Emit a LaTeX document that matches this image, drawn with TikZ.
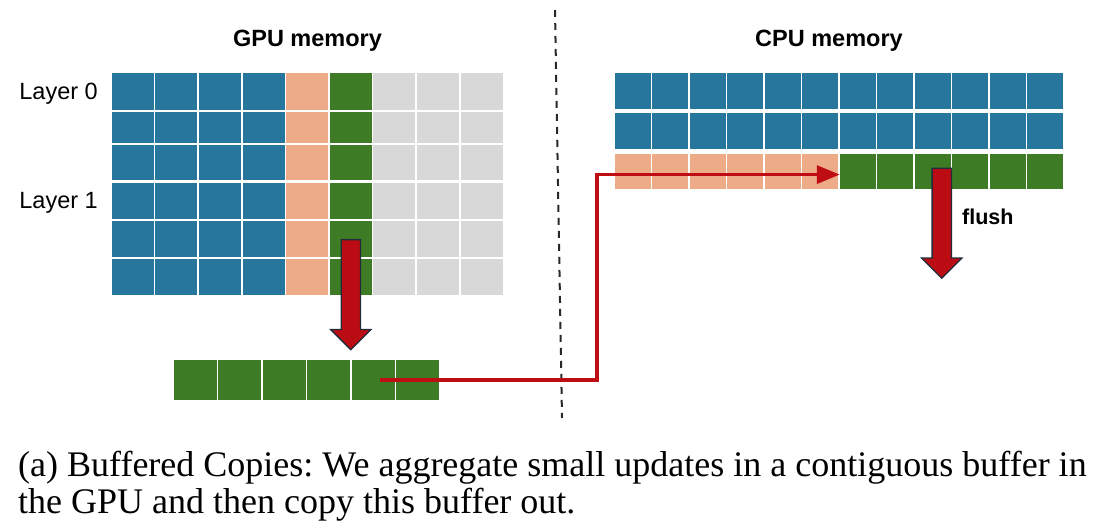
\documentclass[tikz,border=0pt]{standalone}
\usepackage{fontspec}
\setmainfont{Liberation Serif}
\setsansfont{Liberation Sans}
\usetikzlibrary{shapes.arrows,arrows.meta,positioning,calc}

\definecolor{cellblue}{RGB}{38,118,158}
\definecolor{cellsalmon}{RGB}{238,171,135}
\definecolor{cellgreen}{RGB}{61,123,37}
\definecolor{cellgray}{RGB}{216,216,216}
\definecolor{arrowred}{RGB}{186,12,18}
\definecolor{arrowedge}{RGB}{32,44,60}
\definecolor{linkred}{RGB}{190,14,20}
\definecolor{divgray}{RGB}{40,40,40}

\tikzset{
  cell/.style={rectangle,inner sep=0pt,outer sep=0pt,draw=none},
  bigarrow/.style={single arrow,draw=arrowedge,line width=1.3pt,fill=arrowred,
    inner xsep=0pt,inner ysep=9pt,single arrow head extend=10.5pt,
    minimum height=110pt,rotate=-90,anchor=tail},
  link/.style={draw=linkred,line width=3.5pt,-{Triangle[length=23pt,width=18pt]}},
  divider/.style={draw=divgray,line width=2pt,dash pattern=on 7pt off 6pt},
  memtitle/.style={font=\sffamily\bfseries\fontsize{23.5}{26}\selectfont,inner sep=0pt},
  lbl/.style={font=\sffamily\fontsize{23.5}{26}\selectfont,inner sep=0pt},
}

\begin{document}
\frenchspacing
\begin{tikzpicture}[x=1pt,y=-1pt]
  \useasboundingbox (0,0) rectangle (1118,526);
  % GPU memory
  \foreach \r/\yt/\yb in {1/73/110,2/112/143,3/145/180,4/183/219,5/221/257,6/259/295}{
    \foreach \c/\fc in {1/cellblue,2/cellblue,3/cellblue,4/cellblue,5/cellsalmon,
                        6/cellgreen,7/cellgray,8/cellgray,9/cellgray}{
      \node[cell,fill=\fc,minimum width=42pt,minimum height={(\yb-\yt)*1pt}]
        (gpu-\r-\c) at ({111+43.6*(\c-1)+21.8},{(\yt+\yb)/2}) {};
    }
  }
  % buffer
  \foreach \c in {1,...,6}
    \node[cell,fill=cellgreen,minimum width=43pt,minimum height=40pt]
      (buf-\c) at ({173+44.5*(\c-1)+22.25},380) {};
  % CPU memory
  \foreach \r/\yt/\yb in {1/73.3/109.3,2/113.3/149.3}{
    \foreach \c in {1,...,12}
      \node[cell,fill=cellblue,minimum width=36pt,minimum height=36pt]
        (cpu-\r-\c) at ({614+37.5*(\c-1)+18.75},{(\yt+\yb)/2}) {};
  }
  \foreach \c in {1,...,12}{
    \ifnum\c<7 \def\fc{cellsalmon}\else\def\fc{cellgreen}\fi
    \node[cell,fill=\fc,minimum width=36pt,minimum height=35.5pt]
      (cpu-3-\c) at ({614+37.5*(\c-1)+18.75},171.6) {};
  }

  % labels
  \node[memtitle,anchor=base] (gputitle) at (307.5,46.7) {GPU memory};
  \node[memtitle,anchor=base] (cputitle) at (829,46.7) {CPU memory};
  \node[lbl,anchor=base east] (layer0) at (98,99.5) {Layer 0};
  \node[lbl,anchor=base east] (layer1) at (98,209) {Layer 1};

  % divider
  \coordinate (divtop) at (555,10);
  \coordinate (divbot) at (562,418);
  \draw[divider] (divtop) -- (divbot);

  % copy to buffer, then out
  \node[bigarrow] (gather) at (gpu-5-6.center) {};
  \coordinate (bend) at (597,0);
  \coordinate (drop) at ([yshift=-3pt]cpu-3-7.west);
  \draw[link] ([xshift=7pt]buf-5.center) -| (bend |- drop) -- (drop);

  % flush
  \node[bigarrow] (flusharrow) at ([xshift=9pt,yshift=4pt]cpu-3-9.center) {};
  \node[lbl,font=\sffamily\bfseries\fontsize{21.5}{24}\selectfont,anchor=base west]
    (flushlbl) at (962,225) {flush};

  % caption
  \node[anchor=base west,align=left,inner sep=0pt,
        font=\fontsize{36}{37}\selectfont] (caption) at (18,513)
    {(a) Buffered Copies: We aggregate small updates in a contiguous buffer in\\
     the GPU and then copy this buffer out.};
\end{tikzpicture}
\end{document}
